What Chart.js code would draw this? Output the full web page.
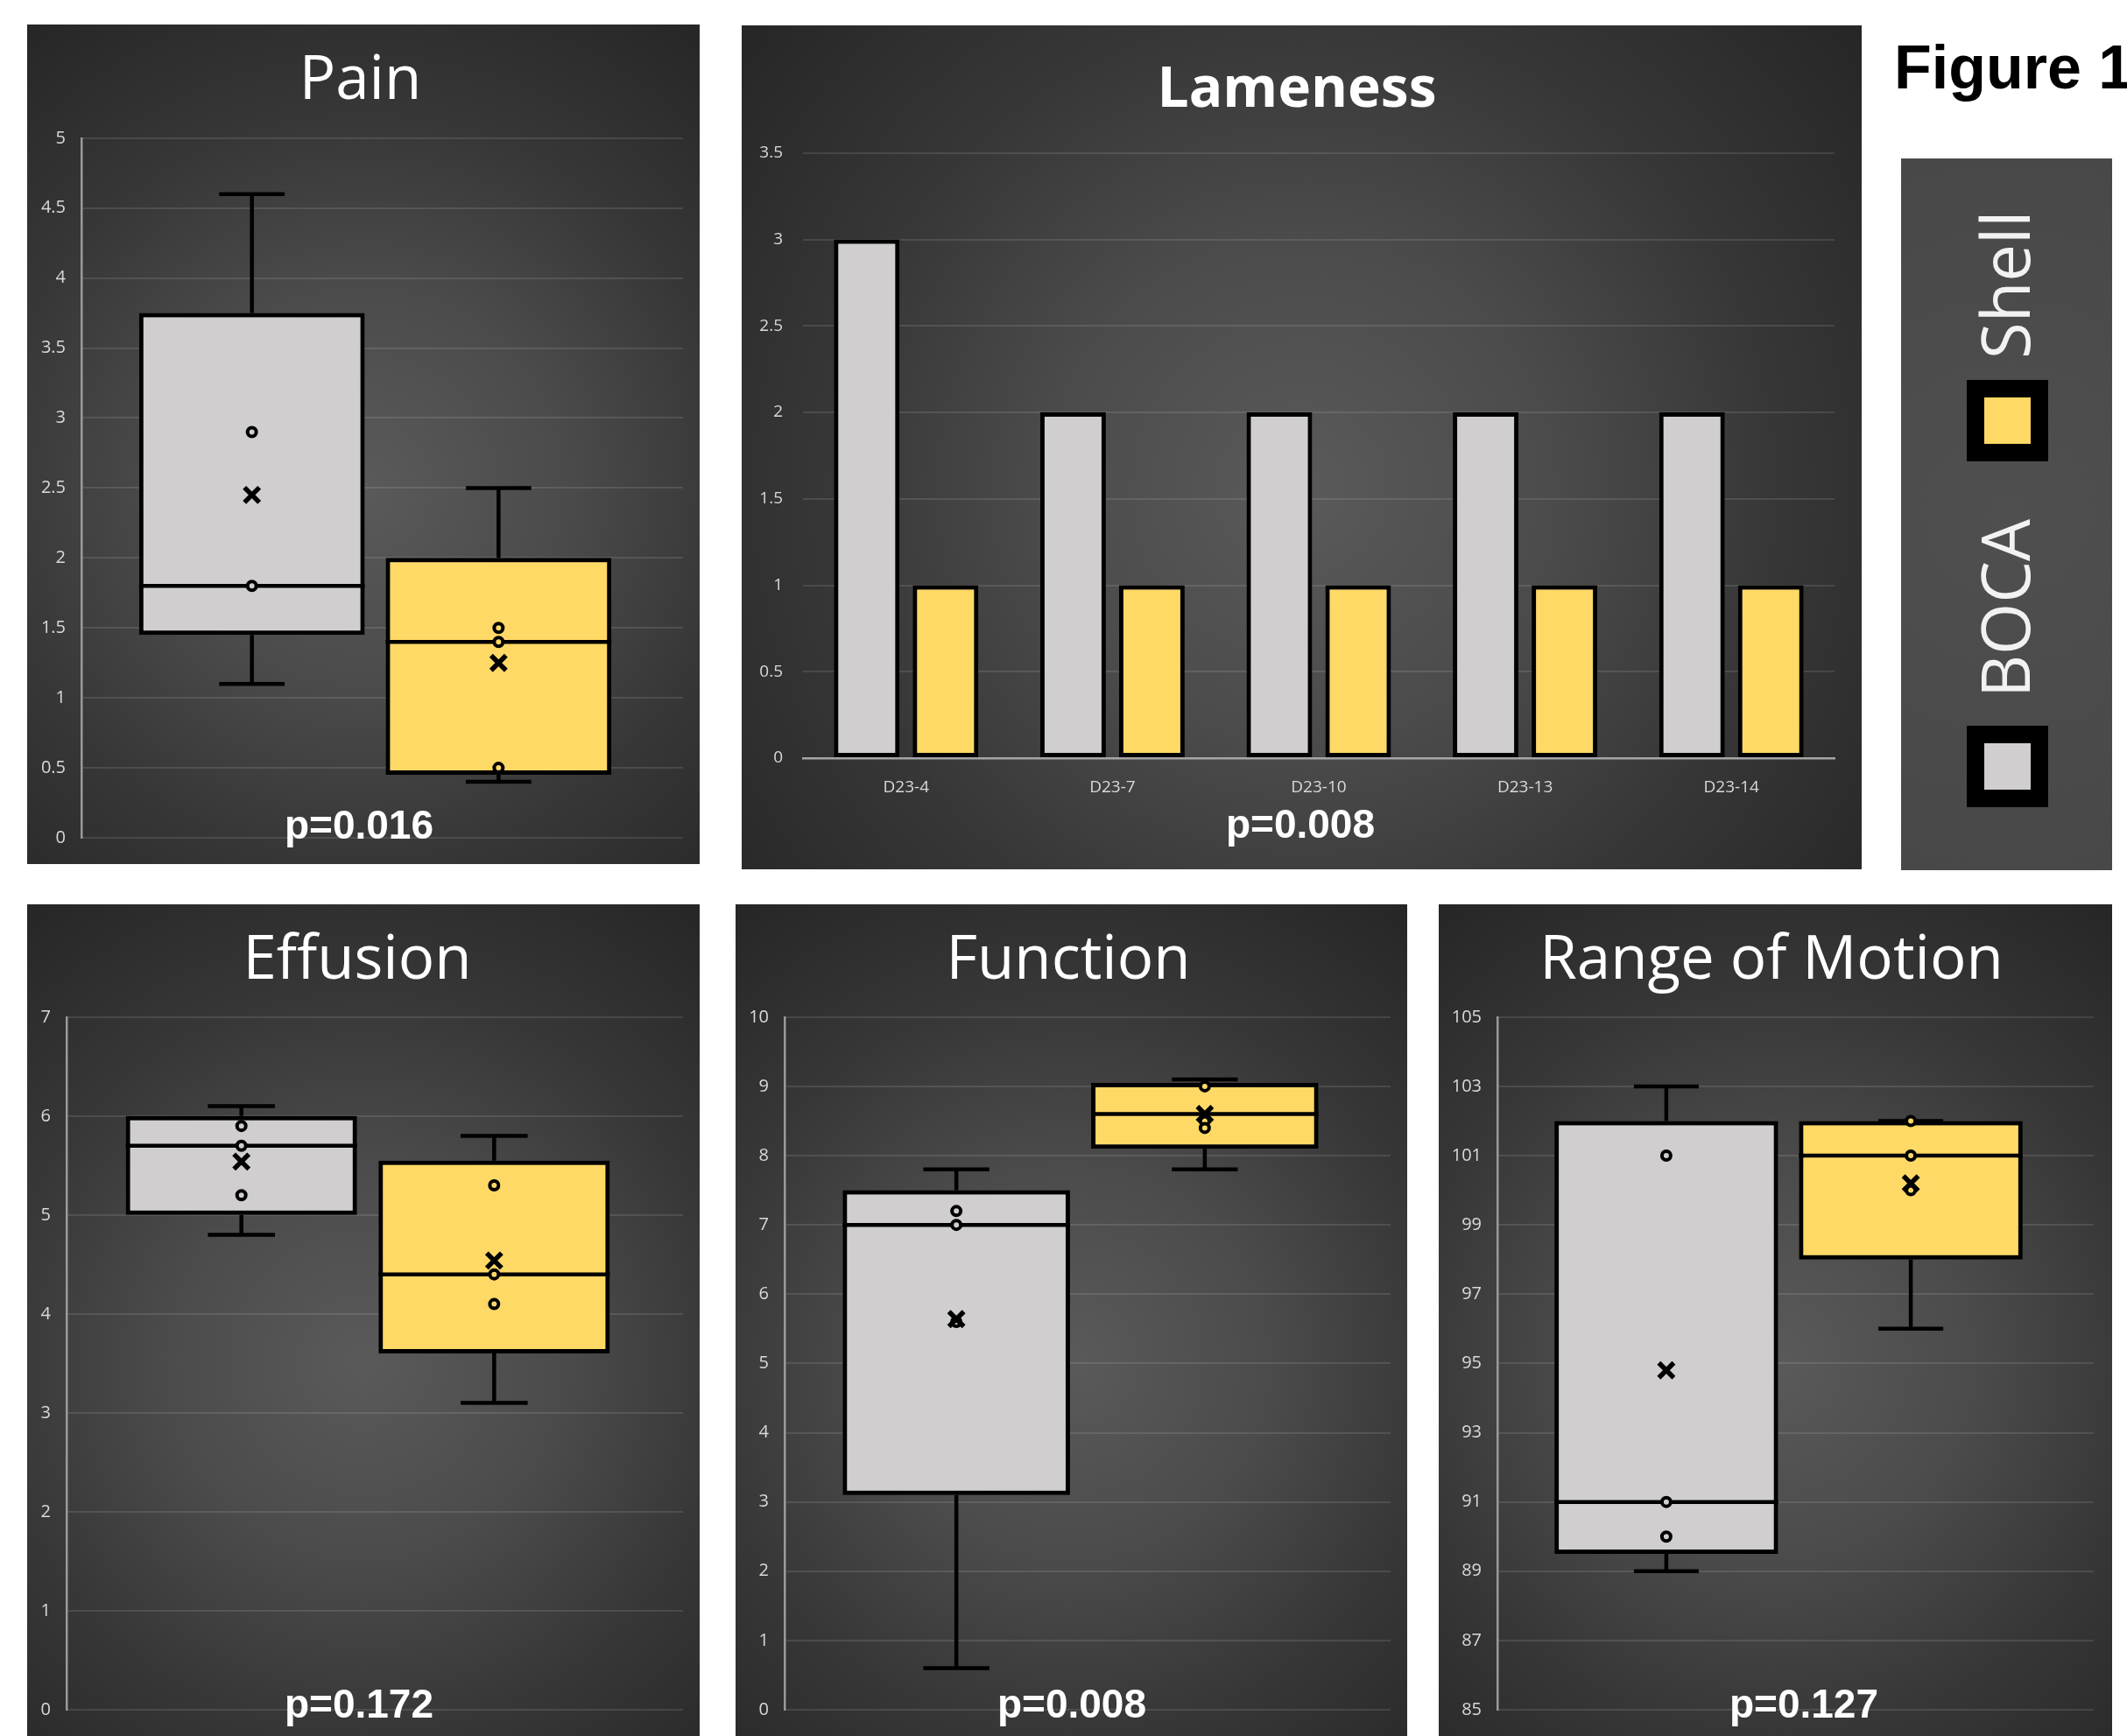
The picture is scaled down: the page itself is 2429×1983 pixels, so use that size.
<!DOCTYPE html>
<html>
<head>
<meta charset="utf-8">
<script src="https://cdn.jsdelivr.net/npm/chart.js@4.4.0/dist/chart.umd.min.js"></script>
<style>
  html, body { margin: 0; padding: 0; background: #fff; width: 2429px; height: 1983px; overflow: hidden; }
  body { position: relative; }
  .panel { position: absolute; background: radial-gradient(circle at 50% 55%, #5a5a5a 0%, #4b4b4b 35%, #373737 65%, #262626 100%); }
  .panel canvas { position: absolute; left: 0; top: 0; }
  #fig { position: absolute; left: 2163px; top: 42px; font: bold 70px "Liberation Sans", Arial, sans-serif; line-height: 1; white-space: nowrap; color: #000; }
  #legend { position: absolute; left: 2171px; top: 181px; width: 241px; height: 813px; background: radial-gradient(circle at 50% 50%, #4f4f4f 0%, #484848 100%); }
  .sw { position: absolute; left: 75px; width: 53px; height: 53px; border: 20px solid #000; }
  .lt { position: absolute; font: 76px "Open Sans", sans-serif; line-height: 1; color: #f2f2f2; white-space: nowrap; transform-origin: 0 0; transform: rotate(-90deg); }
</style>
</head>
<body>
<div class="panel" style="left:31px;top:28px;width:768px;height:959px"><canvas id="cPain"></canvas></div>
<div class="panel" style="left:847px;top:29px;width:1279px;height:964px"><canvas id="cLame"></canvas></div>
<div class="panel" style="left:31px;top:1033px;width:768px;height:950px"><canvas id="cEff"></canvas></div>
<div class="panel" style="left:840px;top:1033px;width:767px;height:950px"><canvas id="cFunc"></canvas></div>
<div class="panel" style="left:1643px;top:1033px;width:769px;height:950px"><canvas id="cRom"></canvas></div>
<div id="fig">Figure 1</div>
<div id="legend">
  <div class="sw" style="top:253px;background:#FFD966"></div>
  <span class="lt" style="left:80px;top:229px">Shell</span>
  <div class="sw" style="top:648px;background:#D0CECE"></div>
  <span class="lt" style="left:80px;top:616px">BOCA</span>
</div>
<script>
// groups: min, q1, median, q3, max
const groups = ['BOCA', 'Shell'];
const fills = ['#D0CECE', '#FFD966'];

const painStats = [[1.1, 1.45, 1.8, 3.75, 4.6], [0.4, 0.45, 1.4, 2.0, 2.5]];
const painMeans = [2.45, 1.25];
const painPoints = [[2.9, 1.8], [1.5, 1.4, 0.5]];

const effStats = [[4.8, 5.0, 5.7, 6.0, 6.1], [3.1, 3.6, 4.4, 5.55, 5.8]];
const effMeans = [5.54, 4.54];
const effPoints = [[5.9, 5.7, 5.2], [5.3, 4.4, 4.1]];

const funcStats = [[0.6, 3.1, 7.0, 7.5, 7.8], [7.8, 8.1, 8.6, 9.05, 9.1]];
const funcMeans = [5.64, 8.6];
const funcPoints = [[7.2, 7.0, 5.6], [9.0, 8.5, 8.4]];

const romStats = [[89, 89.5, 91, 102, 103], [96, 98, 101, 102, 102]];
const romMeans = [94.8, 100.2];
const romPoints = [[101, 91, 90], [102, 101, 100]];

const lameDays = ['D23-4', 'D23-7', 'D23-10', 'D23-13', 'D23-14'];
const lameBoca = [3, 2, 2, 2, 2];
const lameShell = [1, 1, 1, 1, 1];

const tickColor = '#d9d9d9';
const gridColor = 'rgba(255,255,255,0.11)';

// the boxes sit a little left of the plot centre, as in the original
const shiftX = {
  id: 'shiftX',
  afterLayout(chart, args, opts) {
    const x = chart.scales.x;
    x.left += opts.dx;
    x.right += opts.dx;
    x.configure();
  }
};

// whiskers, median, points and mean marks on top of the floating bars
const boxMarks = {
  id: 'boxMarks',
  afterDatasetsDraw(chart) {
    const ctx = chart.ctx, y = chart.scales.y;
    chart.data.datasets.forEach((ds, i) => {
      const bar = chart.getDatasetMeta(i).data[0];
      const cx = bar.x, w = bar.width, s = ds.stats;
      const py = v => y.getPixelForValue(v);
      const cap = w * 0.145;
      ctx.save();
      ctx.strokeStyle = '#000';
      ctx.lineWidth = 4.5;
      ctx.beginPath();
      ctx.moveTo(cx, py(s[3])); ctx.lineTo(cx, py(s[4]));
      ctx.moveTo(cx - cap, py(s[4])); ctx.lineTo(cx + cap, py(s[4]));
      ctx.moveTo(cx, py(s[1])); ctx.lineTo(cx, py(s[0]));
      ctx.moveTo(cx - cap, py(s[0])); ctx.lineTo(cx + cap, py(s[0]));
      ctx.moveTo(cx - w / 2, py(s[2])); ctx.lineTo(cx + w / 2, py(s[2]));
      ctx.stroke();
      ds.pts.forEach(v => {
        ctx.beginPath();
        ctx.arc(cx, py(v), 5, 0, Math.PI * 2);
        ctx.fillStyle = ds.backgroundColor;
        ctx.fill();
        ctx.lineWidth = 4;
        ctx.stroke();
      });
      const my = py(ds.mean), r = 8.5;
      ctx.lineWidth = 5.5;
      ctx.beginPath();
      ctx.moveTo(cx - r, my - r); ctx.lineTo(cx + r, my + r);
      ctx.moveTo(cx + r, my - r); ctx.lineTo(cx - r, my + r);
      ctx.stroke();
      ctx.restore();
    });
  }
};

const pText = {
  id: 'pText',
  afterDraw(chart, args, opts) {
    const ctx = chart.ctx;
    ctx.save();
    ctx.font = 'bold 46px "Liberation Sans", Arial, sans-serif';
    ctx.fillStyle = '#fff';
    ctx.textAlign = 'center';
    ctx.textBaseline = 'alphabetic';
    ctx.fillText(opts.text, opts.x, opts.y);
    ctx.restore();
  }
};

function boxChart(id, title, yMin, yMax, step, stats, means, points, lay) {
  new Chart(document.getElementById(id), {
    type: 'bar',
    data: {
      labels: [''],
      datasets: groups.map((g, i) => ({
        label: g,
        data: [[stats[i][1], stats[i][3]]],
        backgroundColor: fills[i],
        borderColor: '#000',
        borderWidth: 5,
        borderSkipped: false,
        stats: stats[i],
        mean: means[i],
        pts: points[i]
      }))
    },
    options: {
      responsive: true,
      maintainAspectRatio: false,
      animation: false,
      events: [],
      layout: { padding: { left: lay.padL, right: lay.padR, bottom: lay.padB, top: 0 } },
      datasets: { bar: { categoryPercentage: 0.82, barPercentage: 0.915 } },
      plugins: {
        legend: { display: false },
        tooltip: { enabled: false },
        title: {
          display: true, text: title, color: '#fff',
          font: { family: 'Open Sans', size: 69, weight: 'normal' },
          padding: { top: 24, bottom: lay.titleB }
        },
        pText: { text: lay.p, x: lay.px, y: lay.py },
        shiftX: { dx: -8 }
      },
      scales: {
        x: { display: false },
        y: {
          min: yMin, max: yMax,
          ticks: { stepSize: step, color: tickColor, font: { family: 'Open Sans', size: 20 }, padding: 18, callback: v => v },
          grid: { color: gridColor, lineWidth: 2, drawTicks: false },
          border: { display: true, color: '#9a9a9a', width: 2.5 },
          afterFit: s => { s.width = lay.axisW; }
        }
      }
    },
    plugins: [shiftX, boxMarks, pText]
  });
}

boxChart('cPain', 'Pain', 0, 5, 0.5, painStats, painMeans, painPoints,
  { padL: 12, axisW: 50, padR: 19, padB: 27, titleB: 23, p: 'p=0.016', px: 379, py: 930 });
boxChart('cEff', 'Effusion', 0, 7, 1, effStats, effMeans, effPoints,
  { padL: 5, axisW: 40, padR: 19, padB: 19, titleB: 22, p: 'p=0.172', px: 379, py: 929 });
boxChart('cFunc', 'Function', 0, 10, 1, funcStats, funcMeans, funcPoints,
  { padL: 12, axisW: 44, padR: 19, padB: 19, titleB: 22, p: 'p=0.008', px: 384, py: 929 });
boxChart('cRom', 'Range of Motion', 85, 105, 2, romStats, romMeans, romPoints,
  { padL: 12, axisW: 55, padR: 21, padB: 19, titleB: 22, p: 'p=0.127', px: 417, py: 929 });

new Chart(document.getElementById('cLame'), {
  type: 'bar',
  data: {
    labels: lameDays,
    datasets: [
      { label: 'BOCA', data: lameBoca, backgroundColor: fills[0], borderColor: '#000', borderWidth: 5, borderSkipped: false },
      { label: 'Shell', data: lameShell, backgroundColor: fills[1], borderColor: '#000', borderWidth: 5, borderSkipped: false }
    ]
  },
  options: {
    responsive: true,
    maintainAspectRatio: false,
    animation: false,
    events: [],
    layout: { padding: { left: 20, right: 31, bottom: 67, top: 0 } },
    datasets: { bar: { categoryPercentage: 0.764, barPercentage: 0.833 } },
    plugins: {
      legend: { display: false },
      tooltip: { enabled: false },
      title: {
        display: true, text: 'Lameness', color: '#fff',
        font: { family: 'Open Sans', size: 64, weight: 'bold' },
        padding: { top: 36, bottom: 33 }
      },
      pText: { text: 'p=0.008', x: 638, y: 928 }
    },
    scales: {
      x: {
        ticks: { color: tickColor, font: { family: 'Open Sans', size: 19 }, padding: 14 },
        grid: { display: false },
        border: { display: true, color: '#a6a6a6', width: 2.5 },
        afterFit: s => { s.height = 60; }
      },
      y: {
        min: 0, max: 3.5,
        ticks: { stepSize: 0.5, color: tickColor, font: { family: 'Open Sans', size: 19 }, padding: 23, callback: v => v },
        grid: { color: gridColor, lineWidth: 2, drawTicks: false },
        border: { display: false },
        afterFit: s => { s.width = 50; }
      }
    }
  },
  plugins: [pText]
});
</script>
</body>
</html>
